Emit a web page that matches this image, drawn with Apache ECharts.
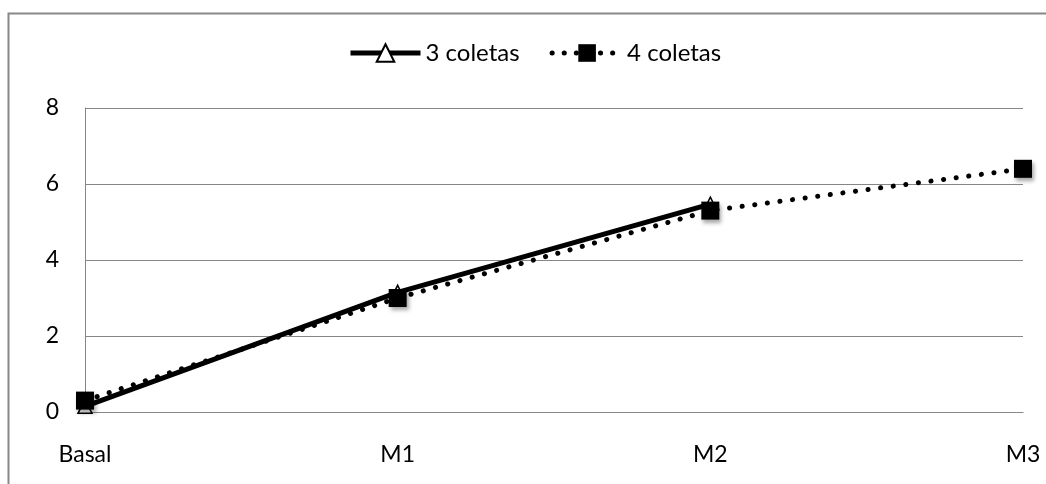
<!DOCTYPE html>
<html>
<head>
<meta charset="utf-8">
<script src="https://cdn.jsdelivr.net/npm/echarts@6/dist/echarts.min.js"></script>
<style>
html,body{margin:0;padding:0;background:#fff;}
#chart{width:1046px;height:484px;}
</style>
</head>
<body>
<div id="chart"></div>
<script>
const categories = ['Basal', 'M1', 'M2', 'M3'];
const seriesNames = ['3 coletas', '4 coletas'];
const values3 = [0.15, 3.15, 5.47, null];
const values4 = [0.3, 3.0, 5.3, 6.4];
const yTicks = [0, 2, 4, 6, 8];

const FONT = 'Lato, "Open Sans", sans-serif';
const chart = echarts.init(document.getElementById('chart'));
const markerShadow = {shadowBlur: 4, shadowOffsetX: 2, shadowOffsetY: 3, shadowColor: 'rgba(0,0,0,0.35)'};

chart.setOption({
  animation: false,
  backgroundColor: '#fff',
  graphic: [{
    type: 'rect', left: 6, top: 11, z: 100, silent: true,
    shape: {width: 1060, height: 500},
    style: {fill: 'none', stroke: '#888', lineWidth: 2}
  }],
  legend: {
    left: 343, top: 36,
    itemWidth: 70, itemHeight: 22, itemGap: 30,
    textStyle: {fontFamily: FONT, fontSize: 24, color: '#000', padding: [0, 0, 0, 0]},
    data: [
      {name: seriesNames[0], lineStyle: {width: 5, color: '#000'}},
      {name: seriesNames[1], lineStyle: {width: 5, color: '#000', type: [0.1, 12], cap: 'round'}}
    ]
  },
  grid: {left: 85, right: 23, top: 108, bottom: 72, containLabel: false},
  xAxis: {
    type: 'category', data: categories, boundaryGap: false,
    axisLine: {lineStyle: {color: '#868686', width: 1}},
    axisTick: {show: false},
    axisLabel: {fontFamily: FONT, fontSize: 23, color: '#000', margin: 31},
    splitLine: {show: false}
  },
  yAxis: {
    type: 'value', min: yTicks[0], max: yTicks[yTicks.length - 1], interval: 2,
    axisLine: {show: true, lineStyle: {color: '#868686', width: 1}},
    axisTick: {show: false},
    axisLabel: {fontFamily: FONT, fontSize: 23, color: '#000', margin: 26},
    splitLine: {lineStyle: {color: '#868686', width: 1}}
  },
  series: [
    {
      name: seriesNames[0], type: 'line', data: values3, z: 2,
      symbol: 'triangle', symbolSize: 14, showAllSymbol: true,
      lineStyle: {color: '#000', width: 5},
      itemStyle: {color: '#fff', borderColor: '#000', borderWidth: 1.5}
    },
    {
      name: seriesNames[1], type: 'line', data: values4, z: 3,
      symbol: 'rect', symbolSize: 18, showAllSymbol: true,
      lineStyle: {color: '#000', width: 5, type: [0.1, 12.6], cap: 'round'},
      itemStyle: Object.assign({color: '#000', borderColor: '#000', borderWidth: 0}, markerShadow)
    }
  ]
});
</script>
</body>
</html>
